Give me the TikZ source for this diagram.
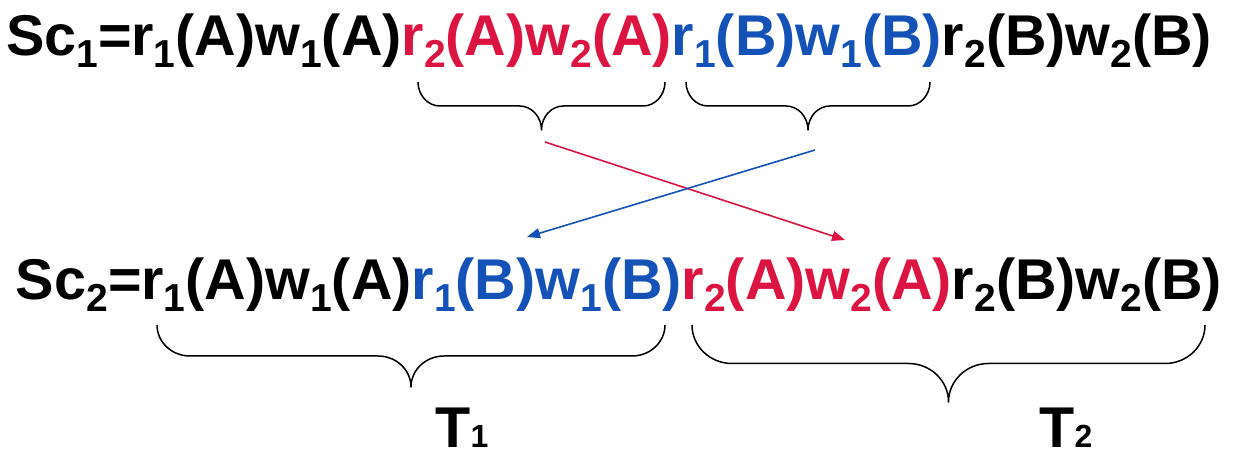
\documentclass[tikz,border=0pt]{standalone}
\usepackage{fontspec}
\setmainfont{Liberation Sans}
\usetikzlibrary{arrows.meta}
\definecolor{myred}{RGB}{220,20,65}
\definecolor{myblue}{RGB}{20,82,184}
\newcommand\subs[1]{\raisebox{-12pt}{\fontsize{39}{39}\selectfont #1}}
\newcommand\mybrace[5]{%
\draw[bracestyle] (#1,{458-#3})
 .. controls (#1,{458-#3-0.276*#4}) and ({#1+0.448*#5},{458-#3-0.5*#4}) .. ({#1+#5},{458-#3-0.5*#4})
 -- ({(#1+#2)/2-#5},{458-#3-0.5*#4})
 .. controls ({(#1+#2)/2-0.448*#5},{458-#3-0.5*#4}) and ({(#1+#2)/2},{458-#3-0.724*#4}) .. ({(#1+#2)/2},{458-#3-#4})
 .. controls ({(#1+#2)/2},{458-#3-0.724*#4}) and ({(#1+#2)/2+0.448*#5},{458-#3-0.5*#4}) .. ({(#1+#2)/2+#5},{458-#3-0.5*#4})
 -- ({#2-#5},{458-#3-0.5*#4})
 .. controls ({#2-0.448*#5},{458-#3-0.5*#4}) and (#2,{458-#3-0.276*#4}) .. (#2,{458-#3});}
\tikzset{
  txt/.style={inner sep=0pt, outer sep=0pt, font=\fontsize{57.5}{60}\selectfont\bfseries},
  bracestyle/.style={draw=black, line width=1.5pt, line join=round},
  arr/.style={line width=1.6pt, -{Triangle[length=13pt,width=10pt]}},
}
\begin{document}
\begin{tikzpicture}[x=1pt,y=1pt]
\useasboundingbox (0,0) rectangle (1240,458);
% top line
\node[txt, anchor=base west] (t0) at (6,402) {Sc\subs{1}=r\subs{1}(A)w\subs{1}(A)};
\node[txt, anchor=base west, text=myred] (t1) at (t0.base east) {r\subs{2}(A)w\subs{2}(A)};
\node[txt, anchor=base west, text=myblue] (t2) at (t1.base east) {r\subs{1}(B)w\subs{1}(B)};
\node[txt, anchor=base west] (t3) at (t2.base east) {r\subs{2}(B)w\subs{2}(B)};
% bottom line
\node[txt, anchor=base west] (b0) at (16,158) {Sc\subs{2}=r\subs{1}(A)w\subs{1}(A)};
\node[txt, anchor=base west, text=myblue] (b1) at (b0.base east) {r\subs{1}(B)w\subs{1}(B)};
\node[txt, anchor=base west, text=myred] (b2) at (b1.base east) {r\subs{2}(A)w\subs{2}(A)};
\node[txt, anchor=base west] (b3) at (b2.base east) {r\subs{2}(B)w\subs{2}(B)};
% labels
\node[txt, anchor=base] (T1) at (462,11) {T{\fontsize{32}{32}\selectfont 1}};
\node[txt, anchor=base] (T2) at (1066,11) {T{\fontsize{32}{32}\selectfont 2}};
% braces
\mybrace{418}{665}{82}{48}{22}
\mybrace{686}{930}{82}{48}{22}
\mybrace{157}{665}{325}{62}{33}
\mybrace{692}{1205}{325}{77}{40}
% arrows
\coordinate (ra) at (545,316);
\coordinate (rb) at (845,218);
\coordinate (ba) at (815,308);
\coordinate (bb) at (527,221);
\draw[arr, draw=myred, fill=myred] (ra) -- (rb);
\draw[arr, draw=myblue, fill=myblue] (ba) -- (bb);
\end{tikzpicture}
\end{document}
